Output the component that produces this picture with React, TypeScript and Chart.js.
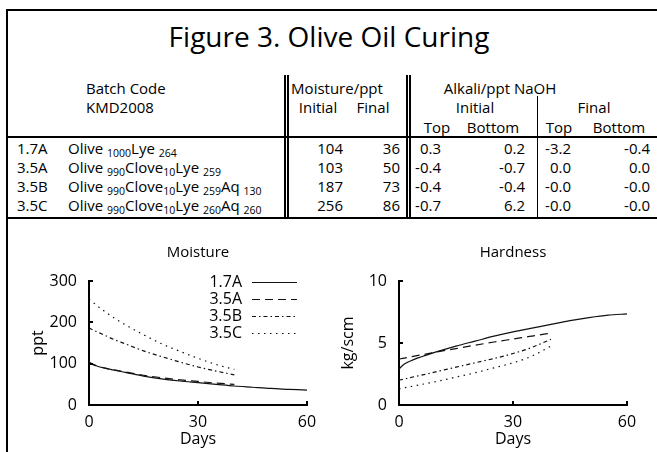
import React, { useEffect, useRef } from "react";
import { Chart, registerables } from "chart.js";
Chart.register(...registerables);

const FONT = "'Open Sans', 'Noto Sans', sans-serif";
const W = 657;
const H = 452;

// ---------- Table data ----------
const titleText = "Figure 3. Olive Oil Curing";
const batchCodes = ["1.7A", "3.5A", "3.5B", "3.5C"];
const formulas: [string, string][][] = [
  [["Olive ", "1000"], ["Lye ", "264"]],
  [["Olive ", "990"], ["Clove", "10"], ["Lye ", "259"]],
  [["Olive ", "990"], ["Clove", "10"], ["Lye ", "259"], ["Aq ", "130"]],
  [["Olive ", "990"], ["Clove", "10"], ["Lye ", "260"], ["Aq ", "260"]],
];
const moistureInitial = [104, 103, 187, 256];
const moistureFinal = [36, 50, 73, 86];
const alkaliInitialTop = ["0.3", "-0.4", "-0.4", "-0.7"];
const alkaliInitialBottom = ["0.2", "-0.7", "-0.4", "6.2"];
const alkaliFinalTop = ["-3.2", "0.0", "-0.0", "-0.0"];
const alkaliFinalBottom = ["-0.4", "0.0", "-0.0", "-0.0"];

// ---------- Chart data ----------
const seriesLabels = ["1.7A", "3.5A", "3.5B", "3.5C"];
const daysLong = [0, 1, 2, 3, 5, 7, 10, 15, 20, 25, 30, 35, 40, 45, 50, 55, 60];
const daysShort = [0, 1, 2, 3, 5, 7, 10, 15, 20, 25, 30, 35, 40];

const moisture17A = [104, 99, 95, 92, 88, 84, 79, 70, 63, 58, 54, 50, 46, 43, 40, 38, 36];
const moisture35A = [103, 98, 95, 92, 88, 85, 80, 72, 66, 61, 57, 53, 50];
const moisture35B = [187, 182, 178, 174, 166, 158, 148, 131, 117, 104, 92, 82, 73];
const moisture35C = [256, 249, 242, 235, 222, 210, 194, 170, 148, 130, 113, 98, 86];

const hardness17A = [2.9, 3.2, 3.4, 3.55, 3.8, 4.0, 4.3, 4.75, 5.15, 5.55, 5.9, 6.2, 6.5, 6.8, 7.05, 7.25, 7.35];
const hardness35A = [3.7, 3.76, 3.82, 3.88, 4.0, 4.1, 4.28, 4.55, 4.82, 5.08, 5.32, 5.56, 5.8];
const hardness35B = [2.0, 2.07, 2.14, 2.21, 2.35, 2.48, 2.7, 3.05, 3.4, 3.75, 4.15, 4.65, 5.3];
const hardness35C = [1.3, 1.36, 1.42, 1.48, 1.6, 1.72, 1.9, 2.25, 2.6, 3.0, 3.4, 3.95, 4.75];

const xTicks = [0, 30, 60];

// ---------- styles ----------
const seriesDash: number[][] = [[], [8, 5], [4, 3, 1.5, 3], [1.5, 4.5]];

const toPoints = (days: number[], vals: number[]) => vals.map((v, i) => ({ x: days[i], y: v }));

function makeDatasets(series: number[][]) {
  return series.map((vals, i) => ({
    label: seriesLabels[i],
    data: toPoints(i === 0 ? daysLong : daysShort, vals),
    borderColor: "#111",
    borderWidth: 1.2,
    borderDash: seriesDash[i],
    pointRadius: 0,
    tension: 0.4,
    cubicInterpolationMode: "monotone" as const,
    fill: false,
  }));
}

const innerTicks = {
  id: "innerTicks",
  afterDatasetsDraw(chart: any) {
    const { ctx, chartArea } = chart;
    const xs = chart.scales.x;
    const ys = chart.scales.y;
    ctx.save();
    ctx.strokeStyle = "#000";
    ctx.lineWidth = 2;
    xs.ticks.forEach((t: any) => {
      const px = Math.round(xs.getPixelForValue(t.value));
      ctx.beginPath();
      ctx.moveTo(px, chartArea.bottom);
      ctx.lineTo(px, chartArea.bottom - 4);
      ctx.stroke();
    });
    ys.ticks.forEach((t: any) => {
      const py = Math.round(ys.getPixelForValue(t.value));
      ctx.beginPath();
      ctx.moveTo(chartArea.left, py);
      ctx.lineTo(chartArea.left + 4, py);
      ctx.stroke();
    });
    ctx.restore();
  },
};

const panelTitle = {
  id: "panelTitle",
  afterDraw(chart: any, _args: any, opts: any) {
    if (!opts || !opts.text) return;
    const { ctx, chartArea } = chart;
    ctx.save();
    ctx.font = `${opts.size}px ${FONT}`;
    ctx.fillStyle = "#000";
    ctx.textAlign = "center";
    ctx.textBaseline = "middle";
    ctx.fillText(opts.text, (chartArea.left + chartArea.right) / 2, opts.y);
    ctx.restore();
  },
};

const insideLegend = {
  id: "insideLegend",
  afterDatasetsDraw(chart: any, _args: any, opts: any) {
    if (!opts || !opts.display) return;
    const { ctx, chartArea } = chart;
    ctx.save();
    ctx.font = `${opts.size}px ${FONT}`;
    ctx.textAlign = "right";
    ctx.textBaseline = "middle";
    chart.data.datasets.forEach((ds: any, i: number) => {
      const y = chartArea.top + opts.top + i * opts.spacing;
      const x = chartArea.left + opts.textRight;
      ctx.fillStyle = "#000";
      ctx.fillText(ds.label, x, y);
      ctx.setLineDash(ds.borderDash || []);
      ctx.lineWidth = ds.borderWidth;
      ctx.strokeStyle = ds.borderColor;
      ctx.beginPath();
      ctx.moveTo(x + opts.gap, y + 0.5);
      ctx.lineTo(x + opts.gap + opts.len, y + 0.5);
      ctx.stroke();
    });
    ctx.restore();
  },
};

function makeConfig(p: {
  series: number[][];
  yMax: number;
  yStep: number;
  yTitle: string;
  title: string;
  yWidth: number;
  yTitlePad: number;
  xHeight: number;
  padRight: number;
  legend: boolean;
}) {
  const tickFont = { family: FONT, size: 16 };
  return {
    type: "line" as const,
    data: { datasets: makeDatasets(p.series) },
    plugins: [innerTicks, panelTitle, insideLegend],
    options: {
      animation: false as const,
      responsive: false,
      events: [],
      layout: { padding: { top: 45, left: 0, right: p.padRight, bottom: 0 } },
      plugins: {
        legend: { display: false },
        tooltip: { enabled: false },
        panelTitle: { text: p.title, size: 15, y: 17 },
        insideLegend: { display: p.legend, size: 16, top: 1, spacing: 17, textRight: 153, gap: 10, len: 45 },
      },
      scales: {
        x: {
          type: "linear" as const,
          min: 0,
          max: 60,
          afterFit: (s: any) => {
            s.height = p.xHeight;
          },
          afterBuildTicks: (s: any) => {
            s.ticks = xTicks.map((v) => ({ value: v }));
          },
          grid: { display: false, drawTicks: false },
          border: { display: true, color: "#000", width: 2 },
          ticks: { font: tickFont, color: "#000", padding: 8, maxRotation: 0 },
          title: { display: true, text: "Days", font: tickFont, color: "#000", padding: { top: 0, bottom: 3.4 } },
        },
        y: {
          type: "linear" as const,
          min: 0,
          max: p.yMax,
          afterFit: (s: any) => {
            s.width = p.yWidth;
          },
          grid: { display: false, drawTicks: false },
          border: { display: true, color: "#000", width: 2 },
          ticks: { font: tickFont, color: "#000", padding: 12, stepSize: p.yStep },
          title: { display: true, text: p.yTitle, font: tickFont, color: "#000", padding: { top: p.yTitlePad, bottom: 0 } },
        },
      },
    },
  };
}

function Panel(props: { left: number; top: number; width: number; height: number; config: any }) {
  const ref = useRef<HTMLCanvasElement>(null);
  useEffect(() => {
    if (!ref.current) return;
    const chart = new Chart(ref.current, props.config);
    return () => chart.destroy();
  }, []);
  return (
    <canvas
      ref={ref}
      width={props.width}
      height={props.height}
      style={{ position: "absolute", left: props.left, top: props.top, width: props.width, height: props.height, display: "block" }}
    />
  );
}

function Txt(props: { x: number; y: number; size?: number; align?: "left" | "right" | "center"; children: any }) {
  const size = props.size ?? 15;
  const style: any = {
    position: "absolute",
    top: props.y - 0.631 * size,
    fontSize: size,
    lineHeight: 1.2,
    whiteSpace: "nowrap",
  };
  const align = props.align ?? "left";
  if (align === "left") style.left = props.x;
  else if (align === "right") style.right = W - props.x;
  else {
    style.left = props.x;
    style.transform = "translateX(-50%)";
  }
  return <div style={style}>{props.children}</div>;
}

function Rule(props: { x: number; y: number; w: number; h: number }) {
  return <div style={{ position: "absolute", left: props.x, top: props.y, width: props.w, height: props.h, background: "#000" }} />;
}

const rowY = [148, 167, 186, 205];

export default function App() {
  const moistureCfg = makeConfig({
    series: [moisture17A, moisture35A, moisture35B, moisture35C],
    yMax: 300,
    yStep: 100,
    yTitle: "ppt",
    title: "Moisture",
    yWidth: 79,
    yTitlePad: 18.4,
    xHeight: 47,
    padRight: 23,
    legend: true,
  });
  const hardnessCfg = makeConfig({
    series: [hardness17A, hardness35A, hardness35B, hardness35C],
    yMax: 10,
    yStep: 5,
    yTitle: "kg/scm",
    title: "Hardness",
    yWidth: 64,
    yTitlePad: 3.4,
    xHeight: 47,
    padRight: 30,
    legend: false,
  });

  return (
    <div
      style={{
        position: "absolute",
        left: 0,
        top: 0,
        width: W,
        height: H,
        overflow: "hidden",
        background: "#fff",
        color: "#000",
        fontFamily: FONT,
      }}
    >
      {/* frame */}
      <Rule x={6} y={9} w={651} h={2} />
      <Rule x={6} y={9} w={2} h={443} />
      <Rule x={6} y={136} w={651} h={2} />
      <Rule x={6} y={217} w={651} h={2} />
      <Rule x={284} y={75} w={2} h={142} />
      <Rule x={287} y={75} w={2} h={142} />
      <Rule x={406} y={75} w={2} h={142} />
      <Rule x={409} y={75} w={2} h={142} />
      <Rule x={537} y={96} w={1} h={121} />

      <Txt x={329} y={38} size={28} align="center">{titleText}</Txt>

      <Txt x={86} y={88}>Batch Code</Txt>
      <Txt x={86} y={107}>KMD2008</Txt>
      <Txt x={337} y={88} align="center">Moisture/ppt</Txt>
      <Txt x={318} y={107} align="center">Initial</Txt>
      <Txt x={373} y={107} align="center">Final</Txt>
      <Txt x={500} y={88} align="center">Alkali/ppt NaOH</Txt>
      <Txt x={475} y={107} align="center">Initial</Txt>
      <Txt x={594} y={107} align="center">Final</Txt>
      <Txt x={437} y={127} align="center">Top</Txt>
      <Txt x={493} y={127} align="center">Bottom</Txt>
      <Txt x={559} y={127} align="center">Top</Txt>
      <Txt x={619} y={127} align="center">Bottom</Txt>

      {batchCodes.map((code, i) => (
        <React.Fragment key={code}>
          <Txt x={17} y={rowY[i]}>{code}</Txt>
          <Txt x={68} y={rowY[i]}>
            {formulas[i].map(([base, sub], j) => (
              <span key={j}>
                {base}
                <span style={{ fontSize: 10.5, position: "relative", top: 3 }}>{sub}</span>
              </span>
            ))}
          </Txt>
          <Txt x={343} y={rowY[i]} align="right">{moistureInitial[i]}</Txt>
          <Txt x={400} y={rowY[i]} align="right">{moistureFinal[i]}</Txt>
          <Txt x={441} y={rowY[i]} align="right">{alkaliInitialTop[i]}</Txt>
          <Txt x={525} y={rowY[i]} align="right">{alkaliInitialBottom[i]}</Txt>
          <Txt x={571} y={rowY[i]} align="right">{alkaliFinalTop[i]}</Txt>
          <Txt x={650} y={rowY[i]} align="right">{alkaliFinalBottom[i]}</Txt>
        </React.Fragment>
      ))}

      <Panel left={10} top={236} width={320} height={216} config={moistureCfg} />
      <Panel left={335} top={236} width={322} height={216} config={hardnessCfg} />
    </div>
  );
}
